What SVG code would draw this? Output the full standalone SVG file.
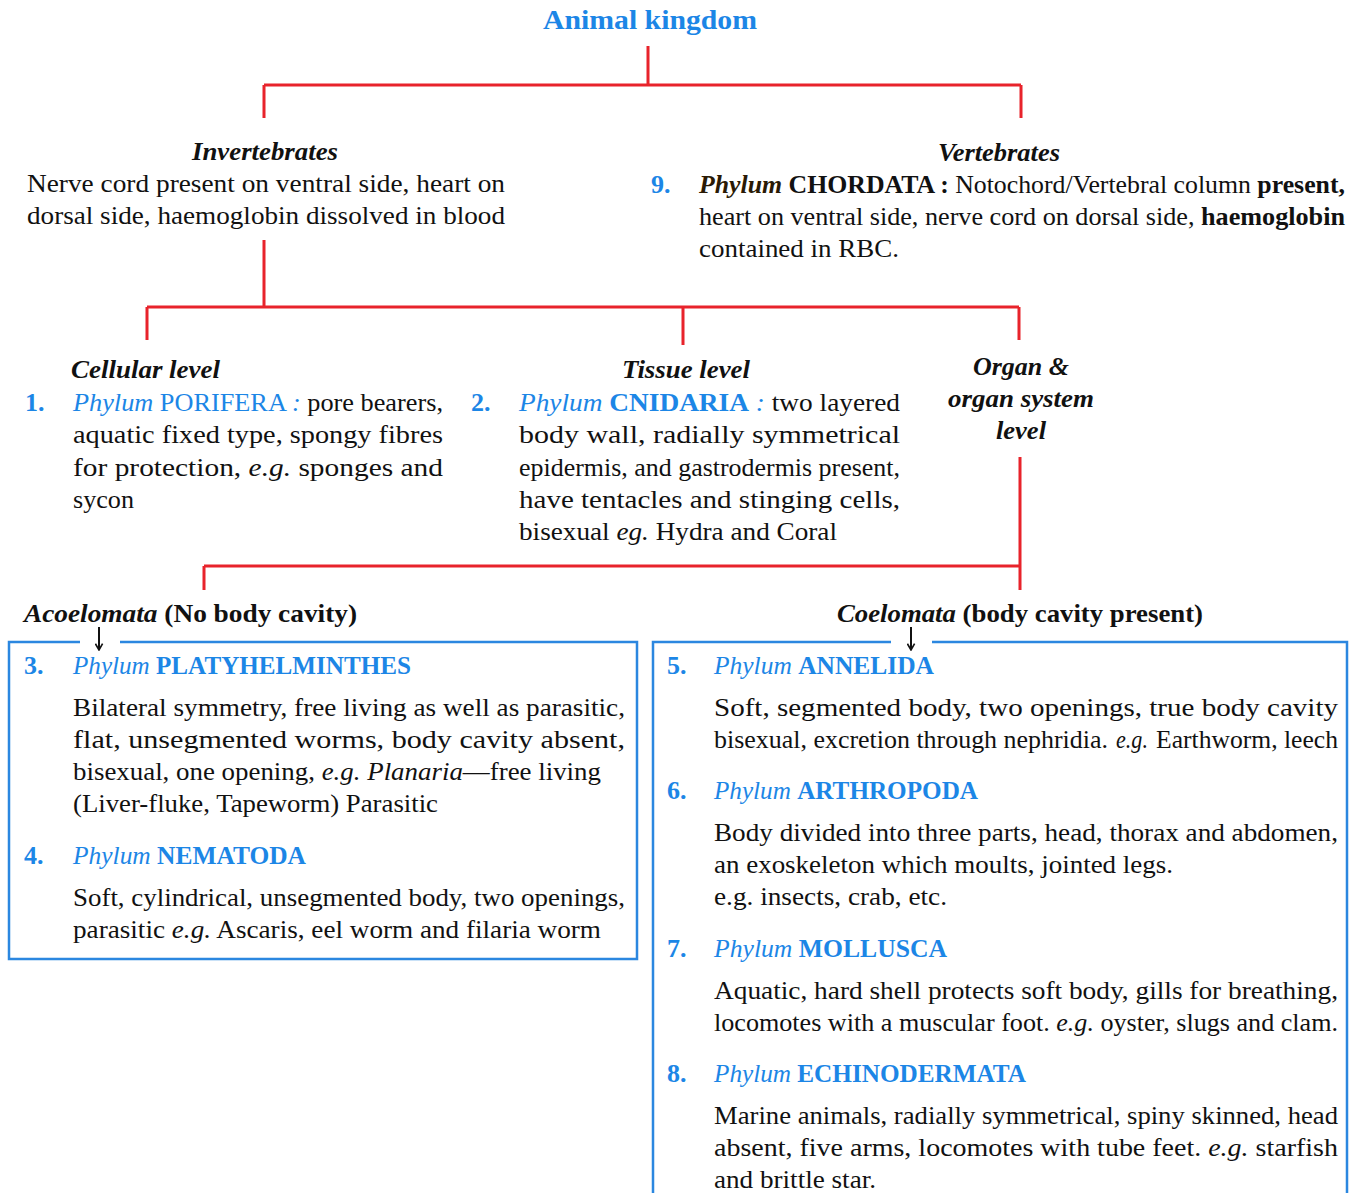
<svg xmlns="http://www.w3.org/2000/svg" width="1359" height="1193" viewBox="0 0 1359 1193" font-family="'Liberation Serif', Tinos, 'Times New Roman', Times, serif">
<style>
text{font-family:'Liberation Serif', Tinos, 'Times New Roman', Times, serif;font-size:26px;fill:#111;}
.bi{font-weight:bold;font-style:italic;}
.b{font-weight:bold;}
.i{font-style:italic;}
.bl{fill:#1c86e6;}
.num{fill:#1c86e6;font-weight:bold;}
.ph{fill:#1c86e6;font-style:italic;}
.cap{fill:#1c86e6;font-weight:bold;}
.red{stroke:#e8232b;stroke-width:3;fill:none;}
.box{stroke:#2b87e0;stroke-width:2.5;fill:none;}
.arr{stroke:#111;stroke-width:2;fill:none;}
</style>
<defs>
<marker id="ah" viewBox="0 0 10 10" refX="9" refY="5" markerWidth="9" markerHeight="9" orient="auto" markerUnits="userSpaceOnUse">
<path d="M2,1 L9,5 L2,9" fill="none" stroke="#111" stroke-width="1.8"/>
</marker>
</defs>
<rect width="1359" height="1193" fill="#ffffff"/>

<g id="connectors">
<path class="red" d="M648,46 V85 M264,85 H1021 M264,85 V118 M1021,85 V118"/>
<path class="red" d="M264,240 V307 M147,307 H1019 M147,307 V340 M683,307 V345 M1019,307 V340"/>
<path class="red" d="M1020,457 V590 M204,566 H1020 M204,566 V590"/>
<line class="arr" x1="99" y1="627" x2="99" y2="650" marker-end="url(#ah)"/>
<line class="arr" x1="911" y1="627" x2="911" y2="650" marker-end="url(#ah)"/>
</g>

<g id="root">
<text x="650" y="29" text-anchor="middle" class="b bl" style="font-size:27px" textLength="214" lengthAdjust="spacingAndGlyphs">Animal  kingdom</text>
</g>

<g id="invertebrates">
<text x="265" y="160" text-anchor="middle" class="bi" textLength="146" lengthAdjust="spacingAndGlyphs">Invertebrates</text>
<text x="27" y="192" textLength="478" lengthAdjust="spacingAndGlyphs">Nerve cord  present on ventral side, heart on</text>
<text x="27" y="224" textLength="478" lengthAdjust="spacingAndGlyphs">dorsal side, haemoglobin dissolved in blood</text>
</g>

<g id="vertebrates">
<text x="999" y="161" text-anchor="middle" class="bi" textLength="122" lengthAdjust="spacingAndGlyphs">Vertebrates</text>
<text x="651" y="193" class="num">9.</text>
<text x="699" y="193" textLength="646" lengthAdjust="spacingAndGlyphs"><tspan class="bi" style="fill:#2a1a05">Phylum</tspan> <tspan class="b">CHORDATA :</tspan> Notochord/Vertebral column <tspan class="b">present,</tspan></text>
<text x="699" y="225" textLength="646" lengthAdjust="spacingAndGlyphs">heart on ventral side, nerve cord on dorsal side, <tspan class="b">haemoglobin</tspan></text>
<text x="699" y="257" textLength="200" lengthAdjust="spacingAndGlyphs">contained in RBC.</text>
</g>

<g id="cellular">
<text x="71" y="378" class="bi" textLength="149" lengthAdjust="spacingAndGlyphs">Cellular level</text>
<text x="25" y="411" class="num">1.</text>
<text x="73" y="411" textLength="370" lengthAdjust="spacingAndGlyphs"><tspan class="ph">Phylum</tspan> <tspan class="cap" style="font-weight:normal">PORIFERA </tspan><tspan class="ph">:</tspan> pore bearers,</text>
<text x="73" y="443" textLength="370" lengthAdjust="spacingAndGlyphs">aquatic fixed type, spongy fibres</text>
<text x="73" y="476" textLength="370" lengthAdjust="spacingAndGlyphs">for protection, <tspan class="i">e.g.</tspan> sponges and</text>
<text x="73" y="508" textLength="61" lengthAdjust="spacingAndGlyphs">sycon</text>
</g>

<g id="tissue">
<text x="686" y="378" text-anchor="middle" class="bi" textLength="128" lengthAdjust="spacingAndGlyphs">Tissue level</text>
<text x="471" y="411" class="num">2.</text>
<text x="519" y="411" textLength="381" lengthAdjust="spacingAndGlyphs"><tspan class="ph">Phylum</tspan>  <tspan class="cap">CNIDARIA</tspan>  <tspan class="ph">:</tspan>  two layered</text>
<text x="519" y="443" textLength="381" lengthAdjust="spacingAndGlyphs">body  wall,  radially  symmetrical</text>
<text x="519" y="476" textLength="381" lengthAdjust="spacingAndGlyphs">epidermis, and gastrodermis present,</text>
<text x="519" y="508" textLength="381" lengthAdjust="spacingAndGlyphs">have  tentacles  and  stinging  cells,</text>
<text x="519" y="540" textLength="318" lengthAdjust="spacingAndGlyphs">bisexual <tspan class="i">eg.</tspan> Hydra and Coral</text>
</g>

<g id="organ">
<text x="1021" y="375" text-anchor="middle" class="bi" textLength="96" lengthAdjust="spacingAndGlyphs">Organ &amp;</text>
<text x="1021" y="407" text-anchor="middle" class="bi" textLength="146" lengthAdjust="spacingAndGlyphs">organ system</text>
<text x="1021" y="439" text-anchor="middle" class="bi" textLength="50" lengthAdjust="spacingAndGlyphs">level</text>
</g>

<g id="acoelomata">
<text x="24" y="622" textLength="333" lengthAdjust="spacingAndGlyphs"><tspan class="bi">Acoelomata</tspan> <tspan class="b">(No body cavity)</tspan></text>
<path class="box" d="M80,642 H9 V959 H637 V642 H120"/>
<text x="24" y="674" class="num">3.</text>
<text x="73" y="674" textLength="338" lengthAdjust="spacingAndGlyphs"><tspan class="ph">Phylum</tspan>  <tspan class="cap">PLATYHELMINTHES</tspan></text>
<text x="73" y="716" textLength="552" lengthAdjust="spacingAndGlyphs">Bilateral symmetry, free living as well as parasitic,</text>
<text x="73" y="748" textLength="552" lengthAdjust="spacingAndGlyphs">flat,  unsegmented  worms,  body  cavity  absent,</text>
<text x="73" y="780" textLength="528" lengthAdjust="spacingAndGlyphs">bisexual, one opening, <tspan class="i">e.g. Planaria</tspan>—free living</text>
<text x="73" y="812" textLength="365" lengthAdjust="spacingAndGlyphs">(Liver-fluke, Tapeworm) Parasitic</text>
<text x="24" y="864" class="num">4.</text>
<text x="73" y="864" textLength="233" lengthAdjust="spacingAndGlyphs"><tspan class="ph">Phylum</tspan>  <tspan class="cap">NEMATODA</tspan></text>
<text x="73" y="906" textLength="552" lengthAdjust="spacingAndGlyphs">Soft, cylindrical, unsegmented body, two openings,</text>
<text x="73" y="938" textLength="528" lengthAdjust="spacingAndGlyphs">parasitic <tspan class="i">e.g.</tspan> Ascaris, eel worm and filaria worm</text>
</g>

<g id="coelomata">
<text x="837" y="622" textLength="366" lengthAdjust="spacingAndGlyphs"><tspan class="bi">Coelomata</tspan> <tspan class="b">(body cavity present)</tspan></text>
<path class="box" d="M891,642 H653 V1193 M1347,1193 V642 H932"/>
<text x="667" y="674" class="num">5.</text>
<text x="714" y="674" textLength="220" lengthAdjust="spacingAndGlyphs"><tspan class="ph">Phylum</tspan>  <tspan class="cap">ANNELIDA</tspan></text>
<text x="714" y="716" textLength="624" lengthAdjust="spacingAndGlyphs">Soft,  segmented  body,  two  openings,  true  body  cavity</text>
<text x="714" y="748" textLength="394" lengthAdjust="spacingAndGlyphs">bisexual, excretion through nephridia.</text>
<text x="1116" y="748" class="i" textLength="32" lengthAdjust="spacingAndGlyphs">e.g.</text>
<text x="1156" y="748" textLength="182" lengthAdjust="spacingAndGlyphs">Earthworm, leech</text>
<text x="667" y="799" class="num">6.</text>
<text x="714" y="799" textLength="264" lengthAdjust="spacingAndGlyphs"><tspan class="ph">Phylum</tspan> <tspan class="cap">ARTHROPODA</tspan></text>
<text x="714" y="841" textLength="624" lengthAdjust="spacingAndGlyphs">Body divided into three parts, head, thorax and abdomen,</text>
<text x="714" y="873" textLength="459" lengthAdjust="spacingAndGlyphs">an exoskeleton which moults, jointed legs.</text>
<text x="714" y="905" textLength="233" lengthAdjust="spacingAndGlyphs">e.g. insects, crab, etc.</text>
<text x="667" y="957" class="num">7.</text>
<text x="714" y="957" textLength="233" lengthAdjust="spacingAndGlyphs"><tspan class="ph">Phylum</tspan>  <tspan class="cap">MOLLUSCA</tspan></text>
<text x="714" y="999" textLength="624" lengthAdjust="spacingAndGlyphs">Aquatic, hard shell protects soft body, gills for breathing,</text>
<text x="714" y="1031" textLength="624" lengthAdjust="spacingAndGlyphs">locomotes with a muscular foot. <tspan class="i">e.g.</tspan> oyster, slugs and clam.</text>
<text x="667" y="1082" class="num">8.</text>
<text x="714" y="1082" textLength="312" lengthAdjust="spacingAndGlyphs"><tspan class="ph">Phylum</tspan>  <tspan class="cap">ECHINODERMATA</tspan></text>
<text x="714" y="1124" textLength="624" lengthAdjust="spacingAndGlyphs">Marine animals, radially symmetrical, spiny skinned, head</text>
<text x="714" y="1156" textLength="624" lengthAdjust="spacingAndGlyphs">absent,  five  arms,  locomotes  with  tube  feet.  <tspan class="i">e.g.</tspan>  starfish</text>
<text x="714" y="1188" textLength="162" lengthAdjust="spacingAndGlyphs">and brittle star.</text>
</g>
</svg>
